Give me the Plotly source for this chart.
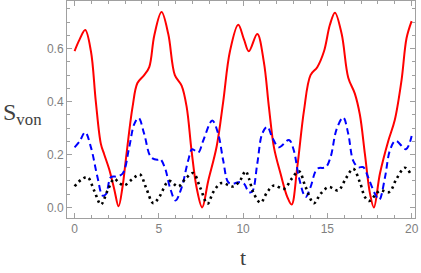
import plotly.graph_objects as go

t_red = [0, 0.3, 0.63, 0.97, 1.26, 1.56, 1.76, 2.05, 2.35, 2.61, 2.85, 3.04, 3.44, 3.73, 4.13, 4.43, 4.73,
         5.16, 5.56, 5.95, 6.35, 6.65, 6.94, 7.24, 7.57, 7.93, 8.43, 8.82, 9.22, 9.71, 10.05, 10.34, 10.84,
         11.23, 11.53, 11.83, 12.22, 12.62, 12.88, 13.21, 13.61, 14.0, 14.4, 14.8, 15.15, 15.45, 15.85,
         16.24, 16.63, 16.93, 17.23, 17.53, 17.76, 18.12, 18.61, 19.0, 19.4, 19.7, 20.0]
s_red = [0.591, 0.635, 0.670, 0.59, 0.40, 0.24, 0.20, 0.145, 0.07, 0.004, 0.08, 0.18, 0.38, 0.47, 0.50, 0.53, 0.65,
         0.738, 0.655, 0.50, 0.46, 0.38, 0.215, 0.075, 0.0, 0.10, 0.23, 0.40, 0.59, 0.69, 0.635, 0.59, 0.655,
         0.55, 0.38, 0.227, 0.128, 0.04, 0.011, 0.15, 0.365, 0.50, 0.53, 0.59, 0.69, 0.736, 0.655,
         0.49, 0.43, 0.35, 0.20, 0.052, 0.0, 0.128, 0.25, 0.33, 0.48, 0.64, 0.704]

t_blue = [0, 0.3, 0.63, 0.97, 1.36, 1.66, 1.86, 2.15, 2.45, 2.85, 3.24, 3.54, 3.8, 4.13, 4.53, 4.9, 5.06, 5.36,
          5.66, 5.99, 6.35, 6.74, 6.98, 7.34, 7.63, 8.17, 8.52, 8.82, 9.12, 9.41, 9.71, 10.05, 10.34, 10.54,
          10.84, 11.13, 11.43, 11.73, 12.12, 12.72, 13.01, 13.31, 13.71, 14.0, 14.4, 14.9, 15.19, 15.55, 15.94,
          16.24, 16.53, 16.83, 17.13, 17.42, 17.82, 18.08, 18.42, 18.71, 19.05, 19.66, 20.0]
s_blue = [0.227, 0.25, 0.284, 0.227, 0.114, 0.045, 0.05, 0.114, 0.117, 0.128, 0.227, 0.315, 0.338, 0.278, 0.19, 0.18, 0.184, 0.15,
          0.075, 0.026, 0.075, 0.177, 0.22, 0.208, 0.252, 0.328, 0.278, 0.177, 0.095, 0.09, 0.095, 0.09, 0.058, 0.06,
          0.165, 0.278, 0.305, 0.265, 0.227, 0.255, 0.215, 0.114, 0.039, 0.077, 0.146, 0.152, 0.19, 0.296, 0.34,
          0.278, 0.177, 0.152, 0.152, 0.114, 0.052, 0.029, 0.114, 0.215, 0.252, 0.22, 0.27]

t_black = [0, 0.4, 0.77, 1.16, 1.56, 1.96, 2.35, 2.65, 2.94, 3.44, 3.88, 4.23, 4.67, 5.02, 5.6, 6.15, 6.6,
           7.04, 7.44, 7.89, 8.23, 8.72, 9.41, 9.8, 10.15, 10.34, 10.64, 11.04, 11.43, 11.83, 12.42, 12.9,
           13.31, 13.71, 14.2, 14.6, 15.09, 15.64, 16.1, 16.53, 16.93, 17.23, 17.48, 17.82, 18.12, 18.67,
           19.1, 19.6, 20.0]
s_black = [0.08, 0.105, 0.114, 0.064, 0.011, 0.064, 0.108, 0.092, 0.083, 0.108, 0.124, 0.076, 0.016, 0.039, 0.10, 0.079, 0.11,
           0.13, 0.077, 0.014, 0.058, 0.092, 0.079, 0.10, 0.137, 0.11, 0.052, 0.018, 0.058, 0.083, 0.07, 0.11,
           0.137, 0.077, 0.016, 0.052, 0.077, 0.064, 0.11, 0.146, 0.095, 0.039, 0.024, 0.045, 0.064, 0.058,
           0.108, 0.15, 0.12]

x_ticks = [0, 5, 10, 15, 20]
y_ticks = [0.0, 0.2, 0.4, 0.6]
y_tick_labels = ["0.0", "0.2", "0.4", "0.6"]

fig = go.Figure()
fig.add_trace(go.Scatter(x=t_red, y=s_red, mode="lines",
                         line=dict(color="#ff0000", width=2, shape="spline", smoothing=1.0)))
fig.add_trace(go.Scatter(x=t_blue, y=s_blue, mode="lines",
                         line=dict(color="#0000ff", width=2, shape="spline", smoothing=1.0, dash="6.5px,4px")))
fig.add_trace(go.Scatter(x=t_black, y=s_black, mode="lines",
                         line=dict(color="#000000", width=2.6, shape="spline", smoothing=1.0, dash="2.4px,3.6px")))

axis_common = dict(showgrid=False, zeroline=False, showline=True, linecolor="#a0a0a0", linewidth=1,
                   mirror="allticks", ticks="inside", ticklen=5, tickcolor="#a0a0a0", tickwidth=1,
                   automargin=False,
                   tickfont=dict(family="Liberation Sans", size=12, color="#808080"))

fig.update_xaxes(range=[-0.45, 20.2], tickvals=x_ticks, ticktext=[str(v) for v in x_ticks],
                 minor=dict(ticks="inside", dtick=1, tick0=0, ticklen=3, tickcolor="#a0a0a0", tickwidth=1),
                 **axis_common)
fig.update_yaxes(range=[-0.04, 0.78], tickvals=y_ticks, ticktext=y_tick_labels,
                 minor=dict(ticks="inside", dtick=0.05, tick0=0, ticklen=3, tickcolor="#a0a0a0", tickwidth=1),
                 **axis_common)

fig.add_annotation(text="t", xref="paper", yref="paper", x=(243 - 67) / 348, y=(218 - 257) / 217,
                   showarrow=False, xanchor="center", yanchor="middle",
                   font=dict(family="Liberation Serif", size=22, color="#404040"))
fig.add_annotation(text="S<sub>von</sub>", xref="paper", yref="paper", x=(1 - 67) / 348, y=(218 - 114) / 217,
                   showarrow=False, xanchor="left", yanchor="middle",
                   font=dict(family="Liberation Serif", size=24, color="#404040"))

fig.update_layout(width=421, height=273, margin=dict(l=67, r=6, t=1, b=55),
                  template="none",
                  plot_bgcolor="white", paper_bgcolor="white", showlegend=False)

fig.write_html("out.html", config={"displayModeBar": False},
               post_script="document.body.style.margin='0px';document.body.style.overflow='hidden';")
